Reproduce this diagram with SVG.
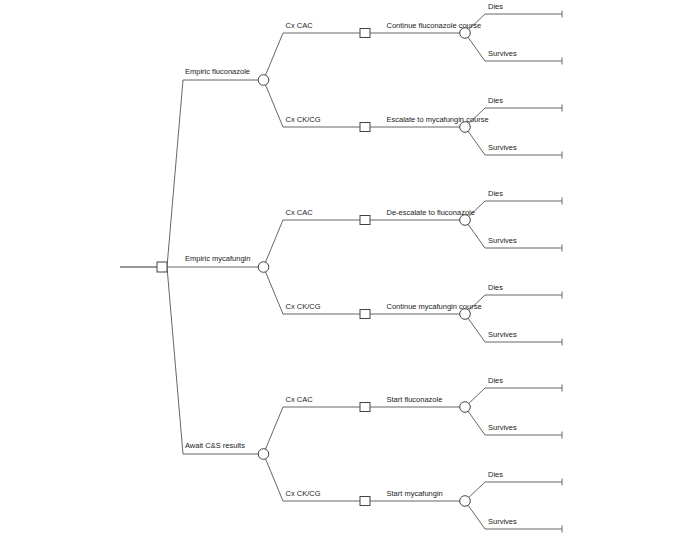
<svg xmlns="http://www.w3.org/2000/svg" width="685" height="538" viewBox="0 0 685 538">
<style>
.c{fill:none;stroke:#666;stroke-width:1}
.root{fill:none;stroke:#333;stroke-width:1.2}
.sq{fill:#fff;stroke:#444;stroke-width:1}
.ch{fill:#fff;stroke:#444;stroke-width:1}
text{font-family:"Liberation Sans",Arial,sans-serif;font-size:7.5px;fill:#222}
</style>
<rect width="685" height="538" fill="#fff"/>
<g id="connectors">
<path class="root" d="M120,267 H162"/>
<path class="c" d="M167,267 L183,80 H263.5 M167,267 H263.5 M167,267 L183,454 H263.5"/>
<path class="c" d="M263.5,80 L283,33 H465 M263.5,80 L283,127 H465"/>
<path class="c" d="M263.5,267 L283,220 H465 M263.5,267 L283,314 H465"/>
<path class="c" d="M263.5,454 L283,407 H465 M263.5,454 L283,501 H465"/>
<path class="c" d="M465,33 L485,14 H562 M465,33 L485,61 H562 M562,10.5 V17.5 M562,57.5 V64.5"/>
<path class="c" d="M465,127 L485,108 H562 M465,127 L485,155 H562 M562,104.5 V111.5 M562,151.5 V158.5"/>
<path class="c" d="M465,220 L485,201 H562 M465,220 L485,248 H562 M562,197.5 V204.5 M562,244.5 V251.5"/>
<path class="c" d="M465,314 L485,295 H562 M465,314 L485,342 H562 M562,291.5 V298.5 M562,338.5 V345.5"/>
<path class="c" d="M465,407 L485,388 H562 M465,407 L485,435 H562 M562,384.5 V391.5 M562,431.5 V438.5"/>
<path class="c" d="M465,501 L485,482 H562 M465,501 L485,529 H562 M562,478.5 V485.5 M562,525.5 V532.5"/>
</g>
<g id="root"><rect class="sq" x="157" y="262" width="10" height="10"/></g>
<g id="n-fluc"><circle class="ch" cx="263.5" cy="80" r="5.3"/><text x="185" y="74">Empiric fluconazole</text></g>
<g id="n-myca"><circle class="ch" cx="263.5" cy="267" r="5.3"/><text x="185" y="261">Empiric mycafungin</text></g>
<g id="n-await"><circle class="ch" cx="263.5" cy="454" r="5.3"/><text x="185" y="448">Await C&amp;S results</text></g>

<g id="d1"><rect class="sq" x="360" y="28.5" width="10" height="9"/><text x="285.5" y="27.5">Cx CAC</text></g>
<g id="d2"><rect class="sq" x="360" y="122.5" width="10" height="9"/><text x="285.5" y="121.5">Cx CK/CG</text></g>
<g id="d3"><rect class="sq" x="360" y="215.5" width="10" height="9"/><text x="285.5" y="214.5">Cx CAC</text></g>
<g id="d4"><rect class="sq" x="360" y="309.5" width="10" height="9"/><text x="285.5" y="308.5">Cx CK/CG</text></g>
<g id="d5"><rect class="sq" x="360" y="402.5" width="10" height="9"/><text x="285.5" y="401.5">Cx CAC</text></g>
<g id="d6"><rect class="sq" x="360" y="496.5" width="10" height="9"/><text x="285.5" y="495.5">Cx CK/CG</text></g>

<g id="c1"><text x="386.5" y="27.5">Continue fluconazole course</text><circle class="ch" cx="465" cy="33" r="5.3"/></g>
<g id="c2"><text x="386.5" y="121.5">Escalate to mycafungin course</text><circle class="ch" cx="465" cy="127" r="5.3"/></g>
<g id="c3"><text x="386.5" y="214.5">De-escalate to fluconazole</text><circle class="ch" cx="465" cy="220" r="5.3"/></g>
<g id="c4"><text x="386.5" y="308.5">Continue mycafungin course</text><circle class="ch" cx="465" cy="314" r="5.3"/></g>
<g id="c5"><text x="386.5" y="401.5">Start fluconazole</text><circle class="ch" cx="465" cy="407" r="5.3"/></g>
<g id="c6"><text x="386.5" y="495.5">Start mycafungin</text><circle class="ch" cx="465" cy="501" r="5.3"/></g>

<g id="t1"><text x="488" y="9">Dies</text><text x="488" y="56">Survives</text></g>
<g id="t2"><text x="488" y="103">Dies</text><text x="488" y="150">Survives</text></g>
<g id="t3"><text x="488" y="196">Dies</text><text x="488" y="243">Survives</text></g>
<g id="t4"><text x="488" y="290">Dies</text><text x="488" y="337">Survives</text></g>
<g id="t5"><text x="488" y="383">Dies</text><text x="488" y="430">Survives</text></g>
<g id="t6"><text x="488" y="477">Dies</text><text x="488" y="524">Survives</text></g>
</svg>
